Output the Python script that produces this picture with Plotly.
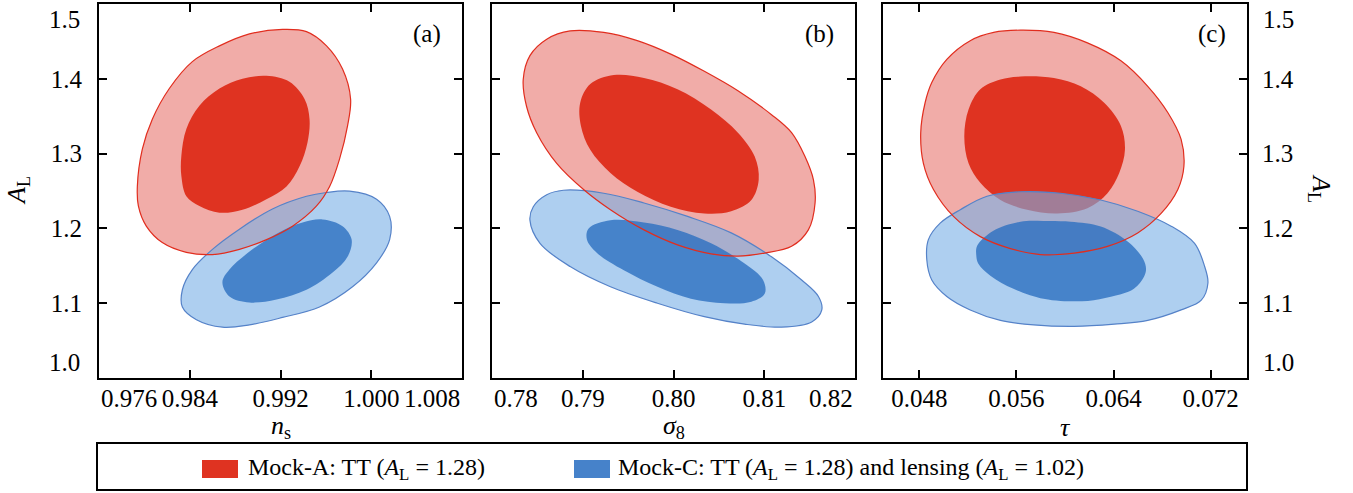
import plotly.graph_objects as go

W, H = 1353, 493
def px(x): return x / W
def py(y): return 1 - y / H

# ---------------- data ----------------
y_range = [1.0, 1.5]
y_ticks_inner = [1.1, 1.2, 1.3, 1.4]
y_edge_labels = ["1.0", "1.5"]

a_x_range = [0.976, 1.008]
a_x_ticks = [0.984, 0.992, 1.000]
a_x_ticklabels = ["0.984", "0.992", "1.000"]
a_x_edge_labels = ["0.976", "1.008"]

b_x_range = [0.78, 0.82]
b_x_ticks = [0.79, 0.80, 0.81]
b_x_ticklabels = ["0.79", "0.80", "0.81"]
b_x_edge_labels = ["0.78", "0.82"]

c_x_range = [0.045, 0.075]
c_x_ticks = [0.048, 0.056, 0.064, 0.072]
c_x_ticklabels = ["0.048", "0.056", "0.064", "0.072"]

# panel (a): n_s vs A_L
a_red_outer_x = [0.99218, 0.99429, 0.99606, 0.99747, 0.99818, 0.99791, 0.99721, 0.99633, 0.99518, 0.99306, 0.99077, 0.98838,
                 0.98600, 0.98370, 0.98158, 0.98017, 0.97947, 0.97938, 0.97982, 0.98070, 0.98220, 0.98423, 0.98662, 0.98926]
a_red_outer_y = [1.466, 1.463, 1.444, 1.413, 1.373, 1.337, 1.293, 1.256, 1.230, 1.203, 1.185, 1.172,
                 1.165, 1.168, 1.181, 1.203, 1.230, 1.256, 1.306, 1.346, 1.387, 1.423, 1.444, 1.460]
a_red_inner_x = [0.99076, 0.99279, 0.99412, 0.99456, 0.99438, 0.99368, 0.99253, 0.99076, 0.98865, 0.98662, 0.98485, 0.98370,
                 0.98326, 0.98326, 0.98370, 0.98485, 0.98662, 0.98865]
a_red_inner_y = [1.404, 1.396, 1.373, 1.346, 1.315, 1.283, 1.256, 1.239, 1.225, 1.221, 1.230, 1.243,
                 1.270, 1.297, 1.333, 1.364, 1.387, 1.400]
a_blue_outer_x = [0.99809, 1.00047, 1.00162, 1.00162, 1.00047, 0.99835, 0.99544, 0.99218, 0.98926, 0.98688, 0.98459, 0.98335,
                  0.98335, 0.98423, 0.98600, 0.98838, 0.99129, 0.99429, 0.99606]
a_blue_outer_y = [1.2497, 1.239, 1.216, 1.185, 1.154, 1.122, 1.095, 1.081, 1.071, 1.068, 1.078, 1.095,
                  1.118, 1.145, 1.172, 1.199, 1.226, 1.243, 1.248]
a_blue_inner_x = [0.99571, 0.99747, 0.99827, 0.99791, 0.99659, 0.99429, 0.99165, 0.98926, 0.98750, 0.98688, 0.98750, 0.98953,
                  0.99191, 0.99394]
a_blue_inner_y = [1.212, 1.203, 1.185, 1.162, 1.141, 1.118, 1.105, 1.101, 1.109, 1.128, 1.145, 1.172,
                  1.195, 1.208]

# panel (b): sigma_8 vs A_L
b_red_outer_x = [0.78861, 0.79231, 0.79601, 0.79970, 0.80340, 0.80710, 0.81080, 0.81301, 0.81449, 0.81542, 0.81560, 0.81486,
                 0.81301, 0.81006, 0.80710, 0.80414, 0.80044, 0.79675, 0.79305, 0.79009, 0.78713, 0.78492, 0.78381, 0.78344,
                 0.78418, 0.78603]
b_red_outer_y = [1.464, 1.462, 1.451, 1.433, 1.410, 1.384, 1.352, 1.328, 1.296, 1.265, 1.234, 1.198,
                 1.176, 1.167, 1.163, 1.166, 1.178, 1.198, 1.225, 1.252, 1.287, 1.328, 1.363, 1.399,
                 1.431, 1.453]
b_red_inner_x = [0.79342, 0.79675, 0.80044, 0.80414, 0.80710, 0.80895, 0.80939, 0.80858, 0.80636, 0.80340, 0.79970, 0.79601,
                 0.79305, 0.79083, 0.78980, 0.78972, 0.79083]
b_red_inner_y = [1.405, 1.401, 1.386, 1.359, 1.328, 1.296, 1.265, 1.238, 1.223, 1.220, 1.229, 1.249,
                 1.274, 1.305, 1.337, 1.368, 1.393]
b_blue_outer_x = [0.78787, 0.79231, 0.79675, 0.80155, 0.80636, 0.81080, 0.81412, 0.81597, 0.81634, 0.81523, 0.81190, 0.80784,
                  0.80340, 0.79823, 0.79305, 0.78861, 0.78529, 0.78418, 0.78455, 0.78603]
b_blue_outer_y = [1.251, 1.247, 1.234, 1.216, 1.194, 1.162, 1.131, 1.109, 1.091, 1.075, 1.068, 1.072,
                  1.082, 1.100, 1.122, 1.149, 1.180, 1.211, 1.229, 1.245]
b_blue_inner_x = [0.79305, 0.79675, 0.80044, 0.80414, 0.80784, 0.80987, 0.81006, 0.80858, 0.80562, 0.80192, 0.79823, 0.79453,
                  0.79157, 0.79046, 0.79065]
b_blue_inner_y = [1.211, 1.208, 1.198, 1.180, 1.153, 1.131, 1.113, 1.102, 1.100, 1.106, 1.122, 1.144,
                  1.167, 1.185, 1.200]

# panel (c): tau vs A_L
c_red_outer_x = [0.05633, 0.05909, 0.06185, 0.06461, 0.06682, 0.06847, 0.06957, 0.06980, 0.06930, 0.06792, 0.06599, 0.06350,
                 0.06075, 0.05799, 0.05550, 0.05302, 0.05081, 0.04916, 0.04833, 0.04811, 0.04847, 0.04902, 0.05026, 0.05219,
                 0.05412]
c_red_outer_y = [1.465, 1.462, 1.448, 1.424, 1.390, 1.355, 1.319, 1.283, 1.252, 1.220, 1.194, 1.176,
                 1.167, 1.165, 1.173, 1.189, 1.216, 1.252, 1.287, 1.328, 1.368, 1.395, 1.426, 1.451,
                 1.462]
c_red_inner_x = [0.05633, 0.05909, 0.06130, 0.06323, 0.06461, 0.06494, 0.06447, 0.06350, 0.06185, 0.05937, 0.05688, 0.05468,
                 0.05302, 0.05205, 0.05170, 0.05205, 0.05302, 0.05468]
c_red_inner_y = [1.403, 1.401, 1.390, 1.368, 1.337, 1.305, 1.274, 1.247, 1.227, 1.220, 1.225, 1.238,
                 1.261, 1.287, 1.323, 1.359, 1.386, 1.399]
c_blue_outer_x = [0.05633, 0.05964, 0.06295, 0.06599, 0.06875, 0.07068, 0.07151, 0.07178, 0.07123, 0.06957, 0.06682, 0.06406,
                  0.06075, 0.05743, 0.05468, 0.05219, 0.05026, 0.04902, 0.04861, 0.04874, 0.04971, 0.05137, 0.05357]
c_blue_outer_y = [1.249, 1.247, 1.238, 1.223, 1.203, 1.180, 1.149, 1.127, 1.104, 1.091, 1.077, 1.072,
                  1.069, 1.071, 1.077, 1.091, 1.109, 1.131, 1.158, 1.185, 1.207, 1.225, 1.243]
c_blue_inner_x = [0.05823, 0.06047, 0.06295, 0.06519, 0.06643, 0.06668, 0.06651, 0.06568, 0.06378, 0.06188, 0.05964, 0.05823,
                  0.05575, 0.05385, 0.05286, 0.05269, 0.05277, 0.05410, 0.05633]
c_blue_inner_y = [1.210, 1.209, 1.2025, 1.1823, 1.1595, 1.146, 1.1353, 1.1192, 1.1085, 1.1031, 1.1031, 1.1058,
                  1.1192, 1.1367, 1.1528, 1.1635, 1.177, 1.197, 1.209]

panel_labels = ["(a)", "(b)", "(c)"]
x_titles = ["<i>n</i><sub>s</sub>", "<i>σ</i><sub>8</sub>", "<i>τ</i>"]
y_title = "<i>A</i><sub>L</sub>"
legend_labels = ["Mock-A: TT (<i>A</i><sub>L</sub> = 1.28)",
                 "Mock-C: TT (<i>A</i><sub>L</sub> = 1.28) and lensing (<i>A</i><sub>L</sub> = 1.02)"]

# ---------------- styling ----------------
FONT = "Liberation Serif, Times New Roman, DejaVu Serif, serif"
RED_LIGHT = "#F1ACA8"
RED_DARK = "#DF3321"
RED_LINE = "rgb(225,45,30)"
BLUE_LIGHT = "rgba(120,175,230,0.6)"
BLUE_DARK = "rgba(44,111,193,0.8)"
BLUE_LINE = "rgb(85,130,200)"
LEG_RED = "#DF3321"
LEG_BLUE = "#4682CA"
TICK_SIZE = 25

def closed(v):
    return list(v) + [v[0]]

fig = go.Figure()

panels = [
    dict(ro=(a_red_outer_x, a_red_outer_y), ri=(a_red_inner_x, a_red_inner_y),
         bo=(a_blue_outer_x, a_blue_outer_y), bi=(a_blue_inner_x, a_blue_inner_y)),
    dict(ro=(b_red_outer_x, b_red_outer_y), ri=(b_red_inner_x, b_red_inner_y),
         bo=(b_blue_outer_x, b_blue_outer_y), bi=(b_blue_inner_x, b_blue_inner_y)),
    dict(ro=(c_red_outer_x, c_red_outer_y), ri=(c_red_inner_x, c_red_inner_y),
         bo=(c_blue_outer_x, c_blue_outer_y), bi=(c_blue_inner_x, c_blue_inner_y)),
]

for i, p in enumerate(panels):
    xa = "x" if i == 0 else f"x{i+1}"
    ya = "y" if i == 0 else f"y{i+1}"
    def add(xy, fill, lc=None, lw=0, fillmode="toself"):
        fig.add_trace(go.Scatter(
            x=closed(xy[0]), y=closed(xy[1]), xaxis=xa, yaxis=ya, mode="lines",
            line=dict(shape="spline", smoothing=1.0, color=lc or "rgba(0,0,0,0)", width=lw),
            fill=fillmode, fillcolor=fill, hoverinfo="skip", showlegend=False))
    add(p["ro"], RED_LIGHT)
    add(p["ri"], RED_DARK)
    add(p["bo"], BLUE_LIGHT, BLUE_LINE, 1.2)
    add(p["bi"], BLUE_DARK)
    add(p["ro"], "rgba(0,0,0,0)", RED_LINE, 1.2, fillmode="none")

# axes layout (pixel boxes in the page)
x_boxes = [(99, 462), (492, 855), (883, 1247)]
y_box = (4, 378)
x_ranges = [a_x_range, b_x_range, c_x_range]
x_tickvals = [a_x_ticks, b_x_ticks, c_x_ticks]
x_ticktexts = [a_x_ticklabels, b_x_ticklabels, c_x_ticklabels]

axis_common = dict(showline=True, linewidth=2, linecolor="black", mirror="ticks",
                   ticks="inside", ticklen=8, tickwidth=2, tickcolor="black",
                   showgrid=False, zeroline=False, fixedrange=True,
                   tickfont=dict(family=FONT, size=TICK_SIZE, color="black"))

layout = dict(width=W, height=H, margin=dict(l=0, r=0, t=0, b=0),
              paper_bgcolor="white", plot_bgcolor="white", showlegend=False,
              font=dict(family=FONT, color="black"))

def build_layout(xstandoff):
    lay = dict(layout)
    for i in range(3):
        xk = "xaxis" if i == 0 else f"xaxis{i+1}"
        yk = "yaxis" if i == 0 else f"yaxis{i+1}"
        xa = "x" if i == 0 else f"x{i+1}"
        ya = "y" if i == 0 else f"y{i+1}"
        lay[xk] = dict(axis_common, domain=[px(x_boxes[i][0]), px(x_boxes[i][1])],
                       range=x_ranges[i], anchor=ya, tickmode="array",
                       tickvals=x_tickvals[i], ticktext=x_ticktexts[i], ticklabelstandoff=xstandoff)
        ydict = dict(axis_common, domain=[py(y_box[1]), py(y_box[0])], range=y_range, anchor=xa,
                     tickmode="array", tickvals=y_ticks_inner,
                     ticktext=[f"{v:.1f}" for v in y_ticks_inner], ticklabelstandoff=10)
        if i == 1:
            ydict["showticklabels"] = False
        if i == 2:
            ydict["side"] = "right"
            ydict["ticklabelstandoff"] = 8
        lay[yk] = ydict
    return lay

try:
    fig.update_layout(**build_layout(-3))
except ValueError:
    fig.update_layout(**build_layout(0))

ann = []
tf = dict(family=FONT, size=TICK_SIZE, color="black")
lf = dict(family=FONT, size=24, color="black")
# edge x tick labels
for xr, labels, xa in [(a_x_range, a_x_edge_labels, "x"), (b_x_range, b_x_edge_labels, "x2")]:
    ann.append(dict(x=xr[0], y=py(383), xref=xa, yref="paper", text=labels[0],
                    xanchor="left", yanchor="top", showarrow=False, font=tf))
    ann.append(dict(x=xr[1], y=py(383), xref=xa, yref="paper", text=labels[1],
                    xanchor="right", yanchor="top", showarrow=False, font=tf))
# edge y tick labels
for xpos, anchor in [(px(82), "right"), (px(1261), "left")]:
    ann.append(dict(x=xpos, y=y_range[0], xref="paper", yref="y", text=y_edge_labels[0],
                    xanchor=anchor, yanchor="bottom", showarrow=False, font=tf))
    ann.append(dict(x=xpos, y=y_range[1], xref="paper", yref="y", text=y_edge_labels[1],
                    xanchor=anchor, yanchor="top", showarrow=False, font=tf))
# panel labels
for (x0, x1), lab in zip(x_boxes, panel_labels):
    ann.append(dict(x=px(x1 - 19), y=py(34), xref="paper", yref="paper", text=lab,
                    xanchor="right", yanchor="middle", showarrow=False, font=tf))
# axis titles
for (x0, x1), t in zip(x_boxes, x_titles):
    ann.append(dict(x=px((x0 + x1) / 2), y=py(427), xref="paper", yref="paper", text=t,
                    xanchor="center", yanchor="middle", showarrow=False,
                    font=dict(family=FONT, size=26, color="black")))
ann.append(dict(x=px(18), y=py(191), xref="paper", yref="paper", text=y_title, textangle=-90,
                xanchor="center", yanchor="middle", showarrow=False,
                font=dict(family=FONT, size=26, color="black")))
ann.append(dict(x=px(1320), y=py(188), xref="paper", yref="paper", text=y_title, textangle=90,
                xanchor="center", yanchor="middle", showarrow=False,
                font=dict(family=FONT, size=26, color="black")))
# legend texts
ann.append(dict(x=px(246), y=py(469), xref="paper", yref="paper", text=legend_labels[0],
                xanchor="left", yanchor="middle", showarrow=False, font=lf))
ann.append(dict(x=px(616), y=py(469), xref="paper", yref="paper", text=legend_labels[1],
                xanchor="left", yanchor="middle", showarrow=False, font=lf))

shapes = [
    dict(type="rect", xref="paper", yref="paper", x0=px(97), x1=px(1247), y0=py(490), y1=py(443),
         line=dict(color="black", width=2), fillcolor="rgba(0,0,0,0)"),
    dict(type="rect", xref="paper", yref="paper", x0=px(202), x1=px(238), y0=py(478), y1=py(460),
         line=dict(width=0), fillcolor=LEG_RED),
    dict(type="rect", xref="paper", yref="paper", x0=px(574), x1=px(610), y0=py(478), y1=py(460),
         line=dict(width=0), fillcolor=LEG_BLUE),
]
fig.update_layout(annotations=ann, shapes=shapes)

fig.write_html("out.html", config={"displayModeBar": False},
               post_script="document.body.style.margin='0';")
